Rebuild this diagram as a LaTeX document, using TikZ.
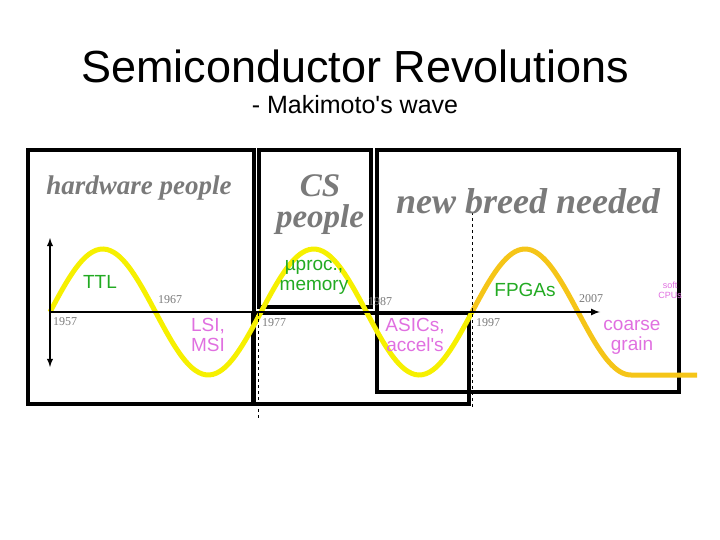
\documentclass[tikz,border=0pt]{standalone}
\usepackage{fontspec}
\setmainfont{Liberation Serif}
\newfontfamily\lsans{Liberation Sans}
\definecolor{wy}{HTML}{F6F000}
\definecolor{wo}{HTML}{F5C518}
\definecolor{lg}{HTML}{22AA22}
\definecolor{lm}{HTML}{E070E0}
\definecolor{tg}{HTML}{7A7A7A}
\begin{document}
\begin{tikzpicture}[x=1pt,y=-1pt,
  box/.style={draw=black,line width=3.4pt},
  yr/.style={text=tg,font=\fontsize{12}{12}\selectfont,inner sep=0pt},
  lab/.style={font=\lsans\fontsize{19}{20}\selectfont,align=center,inner sep=0pt},
  head/.style={text=tg,font=\bfseries\itshape,inner sep=0pt,align=center}]
\useasboundingbox (0,0) rectangle (720,540);
\node[font=\lsans\fontsize{45}{45}\selectfont,inner sep=0pt] (title) at (355,66) {Semiconductor Revolutions};
\node[font=\lsans\fontsize{25}{25}\selectfont,inner sep=0pt] (sub) at (355,105) {- Makimoto's wave};
% boxes
\draw[box] (28,150) rectangle (254,404);
\draw[box] (259,150) rectangle (371,307);
\draw[box] (253,313) rectangle (469,404);
\draw[box] (377,150) rectangle (679,392);
% waves
\draw[wy,line width=5pt] plot[domain=50:472,samples=120,smooth] (\x,{312-63*sin((\x-50)/211*360)});
\draw[wo,line width=5pt] plot[domain=472:631,samples=60,smooth] (\x,{312-63*sin((\x-472)/212*360)}) -- (697,375);
% axes
\coordinate (ax0) at (50,312); \coordinate (ax1) at (600,312);
\draw[line width=2pt,-latex] (ax0) -- (ax1);
\coordinate (v0) at (50,238); \coordinate (v1) at (50,367);
\draw[line width=1.8pt,latex-latex] (v0) -- (v1);
\coordinate (d0) at (258,313); \coordinate (d1) at (258,420);
\draw[dashed] (d0) -- (d1);
\coordinate (e0) at (472,212); \coordinate (e1) at (472,408);
\draw[dashed] (e0) -- (e1);
% years
\node[yr,anchor=west] (y57) at (53,322) {1957};
\node[yr,anchor=west] (y67) at (158,300) {1967};
\node[yr,anchor=west] (y77) at (262,323) {1977};
\node[yr,anchor=west] (y87) at (368,302) {1987};
\node[yr,anchor=west] (y97) at (476,323) {1997};
\node[yr,anchor=west] (y07) at (579,299) {2007};
% labels
\node[lab,text=lg] (ttl) at (100,282) {TTL};
\node[lab,text=lm] (lsi) at (208,335) {LSI,\\MSI};
\node[lab,text=lg] (up) at (314,277) {\textmu proc.,\\memory};
\node[lab,text=lm] (asic) at (415,335) {ASICs,\\accel's};
\node[lab,text=lg] (fpga) at (525,290) {FPGAs};
\node[lab,text=lm] (cg) at (632,337) {coarse\\grain};
\node[lab,text=lm,font=\lsans\fontsize{9}{10}\selectfont] (soft) at (670,290) {soft\\CPUs};
% headings
\node[head,font=\fontsize{27}{27}\selectfont\bfseries\itshape] (hw) at (139,188) {hardware people};
\node[head,font=\fontsize{33}{31}\selectfont\bfseries\itshape] (cs) at (320,205) {CS\\people};
\node[head,font=\fontsize{36}{36}\selectfont\bfseries\itshape] (nb) at (528,201) {new breed needed};
\end{tikzpicture}
\end{document}
